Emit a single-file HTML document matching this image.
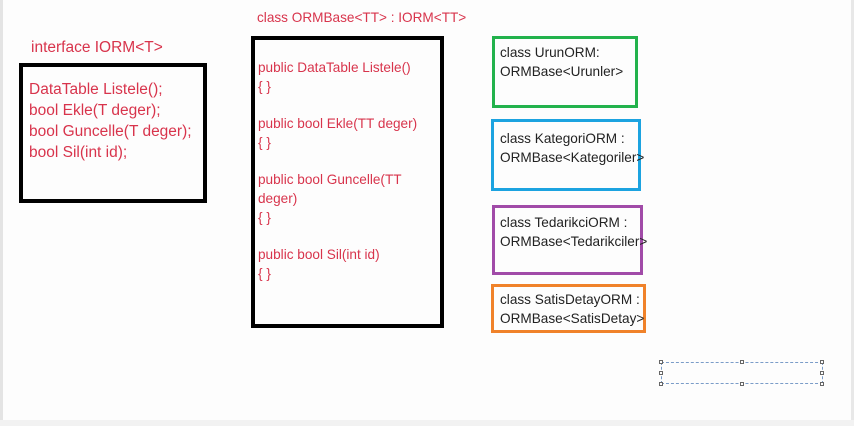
<!DOCTYPE html>
<html><head><meta charset="utf-8"><style>
body{margin:0;width:854px;height:426px;background:#fdfdfd;position:relative;overflow:hidden;font-family:"Liberation Sans",Arial,sans-serif}
.a{position:absolute;white-space:nowrap}
.b{position:absolute;box-sizing:border-box}
.r{color:#d8344c}
.k{color:#222;font-size:13.6px;line-height:19px}
</style></head><body>
<div class="b" style="left:0;top:0;width:3px;height:426px;background:#e4e4e4"></div>
<div class="b" style="left:851px;top:0;width:3px;height:426px;background:#e8e8e8"></div>
<div class="b" style="left:0;top:420px;width:854px;height:6px;background:#f2f2f2"></div>

<div class="a r" style="left:31px;top:39px;font-size:15.5px">interface IORM&lt;T&gt;</div>
<div class="b" style="left:19px;top:63px;width:188px;height:140px;border:4px solid #000"></div>
<div class="a r" style="left:29px;top:79px;font-size:15.5px;line-height:21px">DataTable Listele();<br>bool Ekle(T deger);<br>bool Guncelle(T deger);<br>bool Sil(int id);</div>

<div class="a r" style="left:257px;top:10px;font-size:13.6px">class ORMBase&lt;TT&gt; : IORM&lt;TT&gt;</div>
<div class="b" style="left:251px;top:36px;width:193px;height:292px;border:4px solid #000"></div>
<div class="a r" style="left:258px;top:59px;font-size:13.6px;line-height:18.7px">public DataTable Listele()<br>{ }<br><br>public bool Ekle(TT deger)<br>{ }<br><br>public bool Guncelle(TT<br>deger)<br>{ }<br><br>public bool Sil(int id)<br>{ }</div>

<div class="b" style="left:492px;top:36px;width:146px;height:72px;border:3px solid #22b24c"></div>
<div class="a k" style="left:500px;top:43px">class UrunORM:<br>ORMBase&lt;Urunler&gt;</div>
<div class="b" style="left:491px;top:119px;width:150px;height:72px;border:3px solid #1ca3e0"></div>
<div class="a k" style="left:500px;top:129px">class KategoriORM :<br>ORMBase&lt;Kategoriler&gt;</div>
<div class="b" style="left:492px;top:205px;width:151px;height:70px;border:3px solid #a14ba8"></div>
<div class="a k" style="left:500px;top:213px">class TedarikciORM :<br>ORMBase&lt;Tedarikciler&gt;</div>
<div class="b" style="left:491px;top:284px;width:155px;height:49px;border:3px solid #f0822a"></div>
<div class="a k" style="left:500px;top:290px">class SatisDetayORM :<br>ORMBase&lt;SatisDetay&gt;</div>

<div class="b" style="left:661px;top:362px;width:162px;height:22px;border:1px dashed #7a9cc8"></div>
<div class="b" style="left:659px;top:360px;width:4px;height:4px;border:1px solid #666;background:#fff"></div>
<div class="b" style="left:740px;top:360px;width:4px;height:4px;border:1px solid #666;background:#fff"></div>
<div class="b" style="left:820px;top:360px;width:4px;height:4px;border:1px solid #666;background:#fff"></div>
<div class="b" style="left:659px;top:371px;width:4px;height:4px;border:1px solid #666;background:#fff"></div>
<div class="b" style="left:820px;top:371px;width:4px;height:4px;border:1px solid #666;background:#fff"></div>
<div class="b" style="left:659px;top:382px;width:4px;height:4px;border:1px solid #666;background:#fff"></div>
<div class="b" style="left:740px;top:382px;width:4px;height:4px;border:1px solid #666;background:#fff"></div>
<div class="b" style="left:820px;top:382px;width:4px;height:4px;border:1px solid #666;background:#fff"></div>
</body></html>
